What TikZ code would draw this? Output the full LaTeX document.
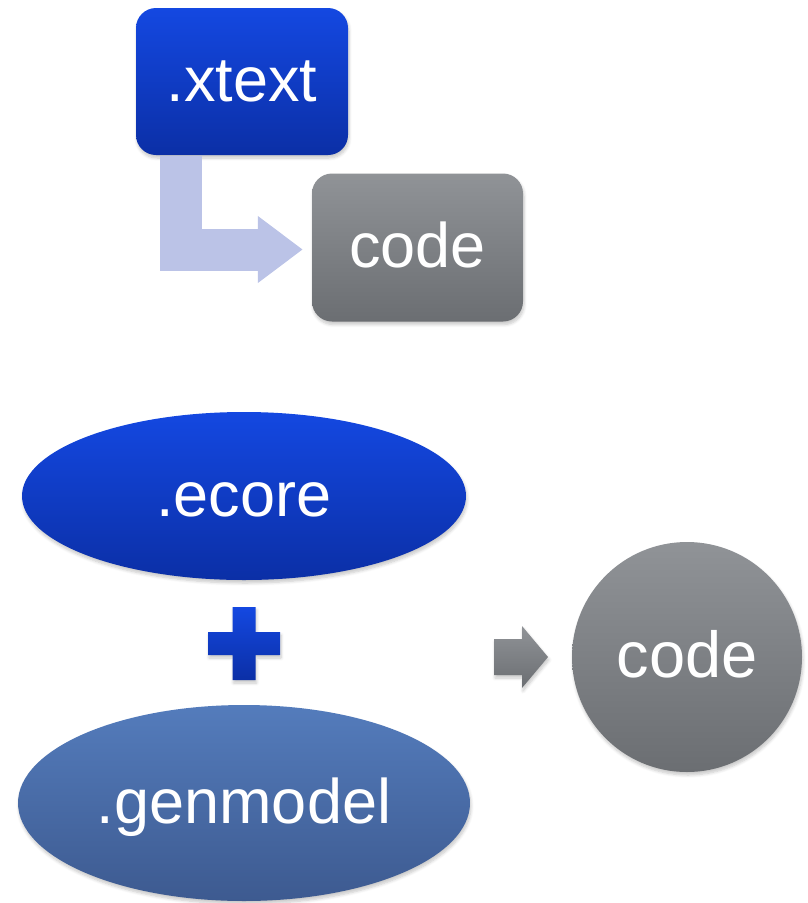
\documentclass[tikz,border=0pt]{standalone}
\usepackage{fontspec}
\setmainfont{Liberation Sans}
\usetikzlibrary{shapes.geometric,arrows.meta,calc,shadows.blur}
\definecolor{blueTop}{HTML}{1448E1}
\definecolor{blueBot}{HTML}{0B2FA6}
\definecolor{grayTop}{HTML}{909397}
\definecolor{grayBot}{HTML}{6B6E72}
\definecolor{gmTop}{HTML}{547CBC}
\definecolor{gmBot}{HTML}{3D5A90}
\definecolor{lav}{HTML}{BBC3E7}
\tikzset{
  lbl/.style={text=white, font=\fontsize{63pt}{70pt}\selectfont, text height=40pt, text depth=0pt},
  softshadow/.style={blur shadow={shadow xshift=1pt, shadow yshift=-3pt, shadow opacity=22, shadow blur radius=3pt, shadow blur steps=6}},
  bluefill/.style={top color=blueTop, bottom color=blueBot},
  grayfill/.style={top color=grayTop, bottom color=grayBot},
  gmfill/.style={top color=gmTop, bottom color=gmBot},
  rbox/.style={lbl, rounded corners=20pt, inner sep=0pt, softshadow},
  oval/.style={lbl, ellipse, inner sep=0pt, softshadow},
  larrow/.style={draw=lav, line width=42pt, line join=miter, -{Triangle[length=45pt,width=64pt]}, shorten >=9pt},
}
\begin{document}
\begin{tikzpicture}[x=1pt,y=-1pt]
\useasboundingbox (0,0) rectangle (807,903);
% top part
\node[rbox, bluefill, minimum width=212pt, minimum height=147pt] (xtext) at (242,81.5) {.xtext};
\node[rbox, grayfill, minimum width=211pt, minimum height=148pt] (code1) at (417.5,247.5) {code};
\draw[larrow] ($(xtext.south west)+(45,1)$) |- ($(code1.west)+(0,2)$);
% bottom part
\node[oval, bluefill, minimum width=444pt, minimum height=168pt] (ecore) at (244,496) {.ecore};
\node[oval, gmfill, minimum width=452pt, minimum height=196pt] (genmodel) at (244,803) {.genmodel};
\node[lbl, circle, grayfill, minimum size=230pt, inner sep=0pt, softshadow, font=\fontsize{65pt}{72pt}\selectfont] (code2) at (687,657) {code};
% plus sign
\coordinate (plus) at (244,643.5);
\begin{scope}[shift={(plus)}]
\shade[bluefill, softshadow] (-11.5,-36.5) -- (11.5,-36.5) -- (11.5,-11.5) -- (36,-11.5) -- (36,11.5) -- (11.5,11.5) -- (11.5,36.5) -- (-11.5,36.5) -- (-11.5,11.5) -- (-36,11.5) -- (-36,-11.5) -- (-11.5,-11.5) -- cycle;
\end{scope}
% gray block arrow
\coordinate (garrow) at (521,657);
\begin{scope}[shift={(garrow)}]
\shade[grayfill, softshadow] (-27,-18) -- (1,-18) -- (1,-31) -- (27,0) -- (1,31) -- (1,18) -- (-27,18) -- cycle;
\end{scope}
\end{tikzpicture}
\end{document}
